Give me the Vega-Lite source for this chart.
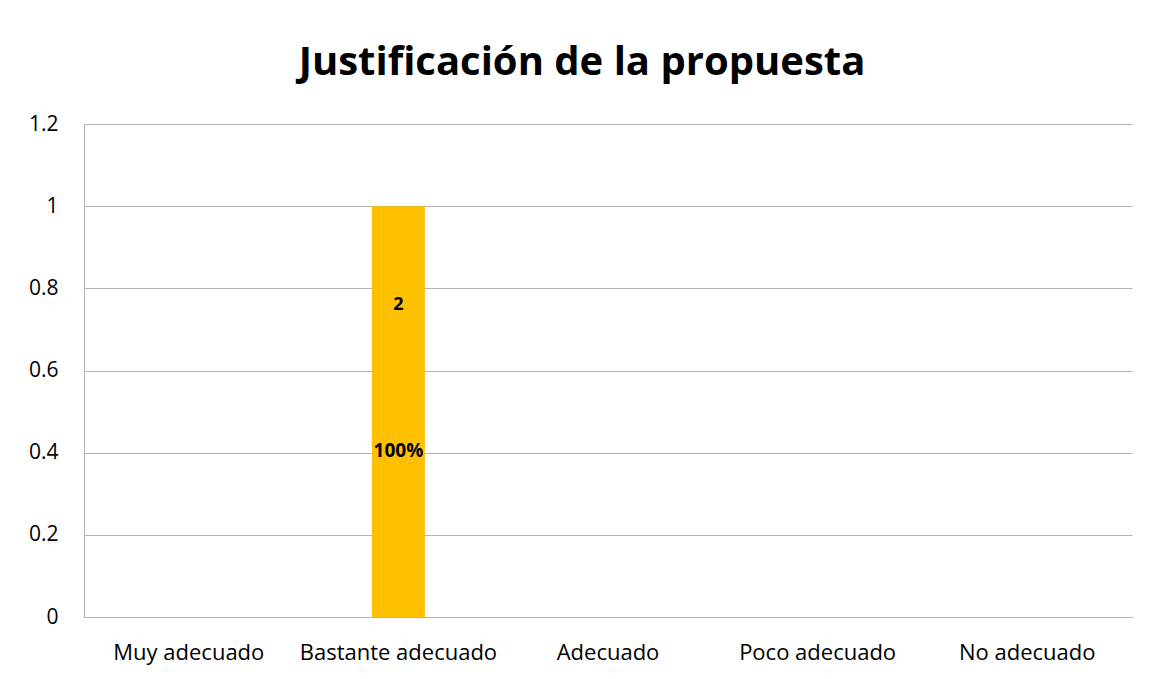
{
  "$schema": "https://vega.github.io/schema/vega-lite/v6.json",
  "autosize": {"type": "none"},
  "width": 1048,
  "height": 493,
  "padding": {"left": 84, "top": 124, "right": 18, "bottom": 62},
  "background": "white",
  "title": {
    "text": "Justificación de la propuesta",
    "font": "Open Sans",
    "fontSize": 40,
    "fontWeight": "bold",
    "color": "#000000",
    "anchor": "middle",
    "frame": "group",
    "dx": -26,
    "offset": 30
  },
  "config": {
    "view": {"stroke": null},
    "font": "Open Sans"
  },
  "data": {
    "values": [
      {"categoria": "Muy adecuado", "valor": 0, "n": "", "pct": ""},
      {"categoria": "Bastante adecuado", "valor": 1, "n": "2", "pct": "100%"},
      {"categoria": "Adecuado", "valor": 0, "n": "", "pct": ""},
      {"categoria": "Poco adecuado", "valor": 0, "n": "", "pct": ""},
      {"categoria": "No adecuado", "valor": 0, "n": "", "pct": ""}
    ]
  },
  "encoding": {
    "x": {
      "field": "categoria",
      "type": "nominal",
      "sort": null,
      "scale": {"paddingInner": 0, "paddingOuter": 0},
      "axis": {
        "title": null,
        "labelAngle": 0,
        "labelFont": "Open Sans",
        "labelFontSize": 22,
        "labelLimit": 0,
        "labelColor": "#000000",
        "labelPadding": 25,
        "ticks": false,
        "domainColor": "#b3b3b3",
        "grid": false
      }
    },
    "y": {
      "field": "valor",
      "type": "quantitative",
      "scale": {"domain": [0, 1.2]},
      "axis": {
        "title": null,
        "values": [0, 0.2, 0.4, 0.6, 0.8, 1, 1.2],
        "labelExpr": "format(datum.value, '~g')",
        "labelFont": "Open Sans",
        "labelFontSize": 21,
        "labelColor": "#000000",
        "labelPadding": 26,
        "ticks": false,
        "domainColor": "#b3b3b3",
        "gridColor": "#b3b3b3",
        "gridWidth": 1
      }
    }
  },
  "layer": [
    {
      "mark": {"type": "bar", "width": 53, "color": "#FFC000"}
    },
    {
      "mark": {"type": "text", "font": "Open Sans", "fontSize": 18, "fontWeight": "bold", "color": "#000000", "dy": 99, "baseline": "middle"},
      "encoding": {"text": {"field": "n"}}
    },
    {
      "mark": {"type": "text", "font": "Open Sans", "fontSize": 19, "fontWeight": "bold", "color": "#000000", "dy": 245, "baseline": "middle"},
      "encoding": {"text": {"field": "pct"}}
    }
  ]
}
